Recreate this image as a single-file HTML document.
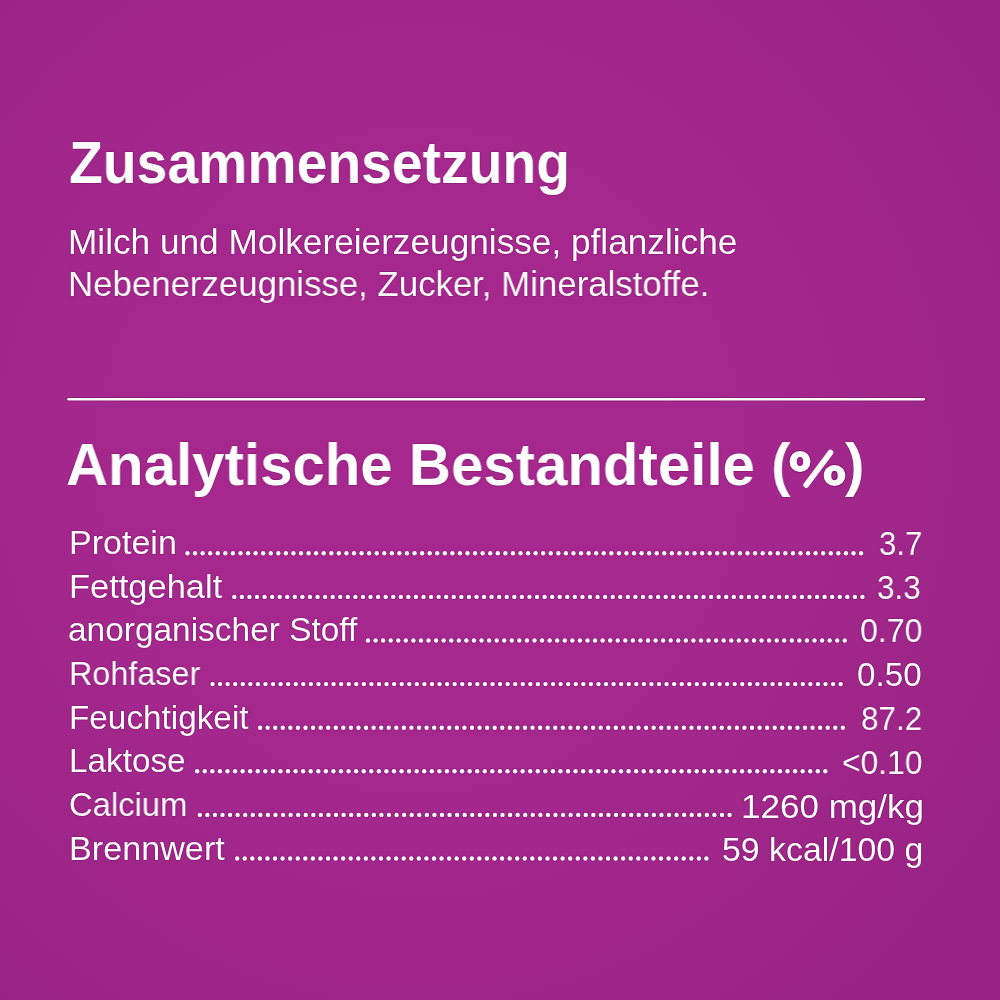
<!DOCTYPE html>
<html><head><meta charset="utf-8"><style>
html,body{margin:0;padding:0;}
body{width:1000px;height:1000px;overflow:hidden;position:relative;background:radial-gradient(ellipse 700px 720px at 42% 46%, rgb(166,40,142) 0%, rgb(166,40,142) 35%, rgb(160,38,138) 68%, rgb(152,35,132) 100%);font-family:"Liberation Sans",sans-serif;color:#fff;}
.t{position:absolute;white-space:pre;transform-origin:0 0;will-change:transform;text-shadow:1px 0 0 rgba(105,0,90,0.3),-1px 0 0 rgba(105,0,90,0.3),0 1px 0 rgba(105,0,90,0.3),0 -1px 0 rgba(105,0,90,0.3);}
svg{position:absolute;left:0;top:0;}
</style></head><body>
<svg width="1000" height="1000" viewBox="0 0 1000 1000"><rect x="67.2" y="397.9" width="857.8" height="2.7" rx="1.3" fill="#fff" stroke="rgba(105,0,90,0.4)" stroke-width="2" paint-order="stroke"/><g fill="#fff" stroke="rgba(105,0,90,0.4)" stroke-width="1.6" paint-order="stroke"><circle cx="187.50" cy="553.3" r="2.2"/><circle cx="195.07" cy="553.3" r="2.2"/><circle cx="202.64" cy="553.3" r="2.2"/><circle cx="210.20" cy="553.3" r="2.2"/><circle cx="217.77" cy="553.3" r="2.2"/><circle cx="225.34" cy="553.3" r="2.2"/><circle cx="232.91" cy="553.3" r="2.2"/><circle cx="240.48" cy="553.3" r="2.2"/><circle cx="248.04" cy="553.3" r="2.2"/><circle cx="255.61" cy="553.3" r="2.2"/><circle cx="263.18" cy="553.3" r="2.2"/><circle cx="270.75" cy="553.3" r="2.2"/><circle cx="278.32" cy="553.3" r="2.2"/><circle cx="285.88" cy="553.3" r="2.2"/><circle cx="293.45" cy="553.3" r="2.2"/><circle cx="301.02" cy="553.3" r="2.2"/><circle cx="308.59" cy="553.3" r="2.2"/><circle cx="316.16" cy="553.3" r="2.2"/><circle cx="323.72" cy="553.3" r="2.2"/><circle cx="331.29" cy="553.3" r="2.2"/><circle cx="338.86" cy="553.3" r="2.2"/><circle cx="346.43" cy="553.3" r="2.2"/><circle cx="354.00" cy="553.3" r="2.2"/><circle cx="361.56" cy="553.3" r="2.2"/><circle cx="369.13" cy="553.3" r="2.2"/><circle cx="376.70" cy="553.3" r="2.2"/><circle cx="384.27" cy="553.3" r="2.2"/><circle cx="391.84" cy="553.3" r="2.2"/><circle cx="399.40" cy="553.3" r="2.2"/><circle cx="406.97" cy="553.3" r="2.2"/><circle cx="414.54" cy="553.3" r="2.2"/><circle cx="422.11" cy="553.3" r="2.2"/><circle cx="429.68" cy="553.3" r="2.2"/><circle cx="437.24" cy="553.3" r="2.2"/><circle cx="444.81" cy="553.3" r="2.2"/><circle cx="452.38" cy="553.3" r="2.2"/><circle cx="459.95" cy="553.3" r="2.2"/><circle cx="467.52" cy="553.3" r="2.2"/><circle cx="475.08" cy="553.3" r="2.2"/><circle cx="482.65" cy="553.3" r="2.2"/><circle cx="490.22" cy="553.3" r="2.2"/><circle cx="497.79" cy="553.3" r="2.2"/><circle cx="505.36" cy="553.3" r="2.2"/><circle cx="512.92" cy="553.3" r="2.2"/><circle cx="520.49" cy="553.3" r="2.2"/><circle cx="528.06" cy="553.3" r="2.2"/><circle cx="535.63" cy="553.3" r="2.2"/><circle cx="543.20" cy="553.3" r="2.2"/><circle cx="550.76" cy="553.3" r="2.2"/><circle cx="558.33" cy="553.3" r="2.2"/><circle cx="565.90" cy="553.3" r="2.2"/><circle cx="573.47" cy="553.3" r="2.2"/><circle cx="581.04" cy="553.3" r="2.2"/><circle cx="588.60" cy="553.3" r="2.2"/><circle cx="596.17" cy="553.3" r="2.2"/><circle cx="603.74" cy="553.3" r="2.2"/><circle cx="611.31" cy="553.3" r="2.2"/><circle cx="618.88" cy="553.3" r="2.2"/><circle cx="626.44" cy="553.3" r="2.2"/><circle cx="634.01" cy="553.3" r="2.2"/><circle cx="641.58" cy="553.3" r="2.2"/><circle cx="649.15" cy="553.3" r="2.2"/><circle cx="656.72" cy="553.3" r="2.2"/><circle cx="664.28" cy="553.3" r="2.2"/><circle cx="671.85" cy="553.3" r="2.2"/><circle cx="679.42" cy="553.3" r="2.2"/><circle cx="686.99" cy="553.3" r="2.2"/><circle cx="694.56" cy="553.3" r="2.2"/><circle cx="702.12" cy="553.3" r="2.2"/><circle cx="709.69" cy="553.3" r="2.2"/><circle cx="717.26" cy="553.3" r="2.2"/><circle cx="724.83" cy="553.3" r="2.2"/><circle cx="732.40" cy="553.3" r="2.2"/><circle cx="739.96" cy="553.3" r="2.2"/><circle cx="747.53" cy="553.3" r="2.2"/><circle cx="755.10" cy="553.3" r="2.2"/><circle cx="762.67" cy="553.3" r="2.2"/><circle cx="770.24" cy="553.3" r="2.2"/><circle cx="777.80" cy="553.3" r="2.2"/><circle cx="785.37" cy="553.3" r="2.2"/><circle cx="792.94" cy="553.3" r="2.2"/><circle cx="800.51" cy="553.3" r="2.2"/><circle cx="808.08" cy="553.3" r="2.2"/><circle cx="815.64" cy="553.3" r="2.2"/><circle cx="823.21" cy="553.3" r="2.2"/><circle cx="830.78" cy="553.3" r="2.2"/><circle cx="838.35" cy="553.3" r="2.2"/><circle cx="845.92" cy="553.3" r="2.2"/><circle cx="853.48" cy="553.3" r="2.2"/><circle cx="861.05" cy="553.3" r="2.2"/><circle cx="234.30" cy="596.9" r="2.2"/><circle cx="241.87" cy="596.9" r="2.2"/><circle cx="249.44" cy="596.9" r="2.2"/><circle cx="257.00" cy="596.9" r="2.2"/><circle cx="264.57" cy="596.9" r="2.2"/><circle cx="272.14" cy="596.9" r="2.2"/><circle cx="279.71" cy="596.9" r="2.2"/><circle cx="287.28" cy="596.9" r="2.2"/><circle cx="294.84" cy="596.9" r="2.2"/><circle cx="302.41" cy="596.9" r="2.2"/><circle cx="309.98" cy="596.9" r="2.2"/><circle cx="317.55" cy="596.9" r="2.2"/><circle cx="325.12" cy="596.9" r="2.2"/><circle cx="332.68" cy="596.9" r="2.2"/><circle cx="340.25" cy="596.9" r="2.2"/><circle cx="347.82" cy="596.9" r="2.2"/><circle cx="355.39" cy="596.9" r="2.2"/><circle cx="362.96" cy="596.9" r="2.2"/><circle cx="370.52" cy="596.9" r="2.2"/><circle cx="378.09" cy="596.9" r="2.2"/><circle cx="385.66" cy="596.9" r="2.2"/><circle cx="393.23" cy="596.9" r="2.2"/><circle cx="400.80" cy="596.9" r="2.2"/><circle cx="408.36" cy="596.9" r="2.2"/><circle cx="415.93" cy="596.9" r="2.2"/><circle cx="423.50" cy="596.9" r="2.2"/><circle cx="431.07" cy="596.9" r="2.2"/><circle cx="438.64" cy="596.9" r="2.2"/><circle cx="446.20" cy="596.9" r="2.2"/><circle cx="453.77" cy="596.9" r="2.2"/><circle cx="461.34" cy="596.9" r="2.2"/><circle cx="468.91" cy="596.9" r="2.2"/><circle cx="476.48" cy="596.9" r="2.2"/><circle cx="484.04" cy="596.9" r="2.2"/><circle cx="491.61" cy="596.9" r="2.2"/><circle cx="499.18" cy="596.9" r="2.2"/><circle cx="506.75" cy="596.9" r="2.2"/><circle cx="514.32" cy="596.9" r="2.2"/><circle cx="521.88" cy="596.9" r="2.2"/><circle cx="529.45" cy="596.9" r="2.2"/><circle cx="537.02" cy="596.9" r="2.2"/><circle cx="544.59" cy="596.9" r="2.2"/><circle cx="552.16" cy="596.9" r="2.2"/><circle cx="559.72" cy="596.9" r="2.2"/><circle cx="567.29" cy="596.9" r="2.2"/><circle cx="574.86" cy="596.9" r="2.2"/><circle cx="582.43" cy="596.9" r="2.2"/><circle cx="590.00" cy="596.9" r="2.2"/><circle cx="597.56" cy="596.9" r="2.2"/><circle cx="605.13" cy="596.9" r="2.2"/><circle cx="612.70" cy="596.9" r="2.2"/><circle cx="620.27" cy="596.9" r="2.2"/><circle cx="627.84" cy="596.9" r="2.2"/><circle cx="635.40" cy="596.9" r="2.2"/><circle cx="642.97" cy="596.9" r="2.2"/><circle cx="650.54" cy="596.9" r="2.2"/><circle cx="658.11" cy="596.9" r="2.2"/><circle cx="665.68" cy="596.9" r="2.2"/><circle cx="673.24" cy="596.9" r="2.2"/><circle cx="680.81" cy="596.9" r="2.2"/><circle cx="688.38" cy="596.9" r="2.2"/><circle cx="695.95" cy="596.9" r="2.2"/><circle cx="703.52" cy="596.9" r="2.2"/><circle cx="711.08" cy="596.9" r="2.2"/><circle cx="718.65" cy="596.9" r="2.2"/><circle cx="726.22" cy="596.9" r="2.2"/><circle cx="733.79" cy="596.9" r="2.2"/><circle cx="741.36" cy="596.9" r="2.2"/><circle cx="748.92" cy="596.9" r="2.2"/><circle cx="756.49" cy="596.9" r="2.2"/><circle cx="764.06" cy="596.9" r="2.2"/><circle cx="771.63" cy="596.9" r="2.2"/><circle cx="779.20" cy="596.9" r="2.2"/><circle cx="786.76" cy="596.9" r="2.2"/><circle cx="794.33" cy="596.9" r="2.2"/><circle cx="801.90" cy="596.9" r="2.2"/><circle cx="809.47" cy="596.9" r="2.2"/><circle cx="817.04" cy="596.9" r="2.2"/><circle cx="824.60" cy="596.9" r="2.2"/><circle cx="832.17" cy="596.9" r="2.2"/><circle cx="839.74" cy="596.9" r="2.2"/><circle cx="847.31" cy="596.9" r="2.2"/><circle cx="854.88" cy="596.9" r="2.2"/><circle cx="862.44" cy="596.9" r="2.2"/><circle cx="368.00" cy="640.5" r="2.2"/><circle cx="375.57" cy="640.5" r="2.2"/><circle cx="383.14" cy="640.5" r="2.2"/><circle cx="390.70" cy="640.5" r="2.2"/><circle cx="398.27" cy="640.5" r="2.2"/><circle cx="405.84" cy="640.5" r="2.2"/><circle cx="413.41" cy="640.5" r="2.2"/><circle cx="420.98" cy="640.5" r="2.2"/><circle cx="428.54" cy="640.5" r="2.2"/><circle cx="436.11" cy="640.5" r="2.2"/><circle cx="443.68" cy="640.5" r="2.2"/><circle cx="451.25" cy="640.5" r="2.2"/><circle cx="458.82" cy="640.5" r="2.2"/><circle cx="466.38" cy="640.5" r="2.2"/><circle cx="473.95" cy="640.5" r="2.2"/><circle cx="481.52" cy="640.5" r="2.2"/><circle cx="489.09" cy="640.5" r="2.2"/><circle cx="496.66" cy="640.5" r="2.2"/><circle cx="504.22" cy="640.5" r="2.2"/><circle cx="511.79" cy="640.5" r="2.2"/><circle cx="519.36" cy="640.5" r="2.2"/><circle cx="526.93" cy="640.5" r="2.2"/><circle cx="534.50" cy="640.5" r="2.2"/><circle cx="542.06" cy="640.5" r="2.2"/><circle cx="549.63" cy="640.5" r="2.2"/><circle cx="557.20" cy="640.5" r="2.2"/><circle cx="564.77" cy="640.5" r="2.2"/><circle cx="572.34" cy="640.5" r="2.2"/><circle cx="579.90" cy="640.5" r="2.2"/><circle cx="587.47" cy="640.5" r="2.2"/><circle cx="595.04" cy="640.5" r="2.2"/><circle cx="602.61" cy="640.5" r="2.2"/><circle cx="610.18" cy="640.5" r="2.2"/><circle cx="617.74" cy="640.5" r="2.2"/><circle cx="625.31" cy="640.5" r="2.2"/><circle cx="632.88" cy="640.5" r="2.2"/><circle cx="640.45" cy="640.5" r="2.2"/><circle cx="648.02" cy="640.5" r="2.2"/><circle cx="655.58" cy="640.5" r="2.2"/><circle cx="663.15" cy="640.5" r="2.2"/><circle cx="670.72" cy="640.5" r="2.2"/><circle cx="678.29" cy="640.5" r="2.2"/><circle cx="685.86" cy="640.5" r="2.2"/><circle cx="693.42" cy="640.5" r="2.2"/><circle cx="700.99" cy="640.5" r="2.2"/><circle cx="708.56" cy="640.5" r="2.2"/><circle cx="716.13" cy="640.5" r="2.2"/><circle cx="723.70" cy="640.5" r="2.2"/><circle cx="731.26" cy="640.5" r="2.2"/><circle cx="738.83" cy="640.5" r="2.2"/><circle cx="746.40" cy="640.5" r="2.2"/><circle cx="753.97" cy="640.5" r="2.2"/><circle cx="761.54" cy="640.5" r="2.2"/><circle cx="769.10" cy="640.5" r="2.2"/><circle cx="776.67" cy="640.5" r="2.2"/><circle cx="784.24" cy="640.5" r="2.2"/><circle cx="791.81" cy="640.5" r="2.2"/><circle cx="799.38" cy="640.5" r="2.2"/><circle cx="806.94" cy="640.5" r="2.2"/><circle cx="814.51" cy="640.5" r="2.2"/><circle cx="822.08" cy="640.5" r="2.2"/><circle cx="829.65" cy="640.5" r="2.2"/><circle cx="837.22" cy="640.5" r="2.2"/><circle cx="844.78" cy="640.5" r="2.2"/><circle cx="212.50" cy="684.1" r="2.2"/><circle cx="220.07" cy="684.1" r="2.2"/><circle cx="227.64" cy="684.1" r="2.2"/><circle cx="235.20" cy="684.1" r="2.2"/><circle cx="242.77" cy="684.1" r="2.2"/><circle cx="250.34" cy="684.1" r="2.2"/><circle cx="257.91" cy="684.1" r="2.2"/><circle cx="265.48" cy="684.1" r="2.2"/><circle cx="273.04" cy="684.1" r="2.2"/><circle cx="280.61" cy="684.1" r="2.2"/><circle cx="288.18" cy="684.1" r="2.2"/><circle cx="295.75" cy="684.1" r="2.2"/><circle cx="303.32" cy="684.1" r="2.2"/><circle cx="310.88" cy="684.1" r="2.2"/><circle cx="318.45" cy="684.1" r="2.2"/><circle cx="326.02" cy="684.1" r="2.2"/><circle cx="333.59" cy="684.1" r="2.2"/><circle cx="341.16" cy="684.1" r="2.2"/><circle cx="348.72" cy="684.1" r="2.2"/><circle cx="356.29" cy="684.1" r="2.2"/><circle cx="363.86" cy="684.1" r="2.2"/><circle cx="371.43" cy="684.1" r="2.2"/><circle cx="379.00" cy="684.1" r="2.2"/><circle cx="386.56" cy="684.1" r="2.2"/><circle cx="394.13" cy="684.1" r="2.2"/><circle cx="401.70" cy="684.1" r="2.2"/><circle cx="409.27" cy="684.1" r="2.2"/><circle cx="416.84" cy="684.1" r="2.2"/><circle cx="424.40" cy="684.1" r="2.2"/><circle cx="431.97" cy="684.1" r="2.2"/><circle cx="439.54" cy="684.1" r="2.2"/><circle cx="447.11" cy="684.1" r="2.2"/><circle cx="454.68" cy="684.1" r="2.2"/><circle cx="462.24" cy="684.1" r="2.2"/><circle cx="469.81" cy="684.1" r="2.2"/><circle cx="477.38" cy="684.1" r="2.2"/><circle cx="484.95" cy="684.1" r="2.2"/><circle cx="492.52" cy="684.1" r="2.2"/><circle cx="500.08" cy="684.1" r="2.2"/><circle cx="507.65" cy="684.1" r="2.2"/><circle cx="515.22" cy="684.1" r="2.2"/><circle cx="522.79" cy="684.1" r="2.2"/><circle cx="530.36" cy="684.1" r="2.2"/><circle cx="537.92" cy="684.1" r="2.2"/><circle cx="545.49" cy="684.1" r="2.2"/><circle cx="553.06" cy="684.1" r="2.2"/><circle cx="560.63" cy="684.1" r="2.2"/><circle cx="568.20" cy="684.1" r="2.2"/><circle cx="575.76" cy="684.1" r="2.2"/><circle cx="583.33" cy="684.1" r="2.2"/><circle cx="590.90" cy="684.1" r="2.2"/><circle cx="598.47" cy="684.1" r="2.2"/><circle cx="606.04" cy="684.1" r="2.2"/><circle cx="613.60" cy="684.1" r="2.2"/><circle cx="621.17" cy="684.1" r="2.2"/><circle cx="628.74" cy="684.1" r="2.2"/><circle cx="636.31" cy="684.1" r="2.2"/><circle cx="643.88" cy="684.1" r="2.2"/><circle cx="651.44" cy="684.1" r="2.2"/><circle cx="659.01" cy="684.1" r="2.2"/><circle cx="666.58" cy="684.1" r="2.2"/><circle cx="674.15" cy="684.1" r="2.2"/><circle cx="681.72" cy="684.1" r="2.2"/><circle cx="689.28" cy="684.1" r="2.2"/><circle cx="696.85" cy="684.1" r="2.2"/><circle cx="704.42" cy="684.1" r="2.2"/><circle cx="711.99" cy="684.1" r="2.2"/><circle cx="719.56" cy="684.1" r="2.2"/><circle cx="727.12" cy="684.1" r="2.2"/><circle cx="734.69" cy="684.1" r="2.2"/><circle cx="742.26" cy="684.1" r="2.2"/><circle cx="749.83" cy="684.1" r="2.2"/><circle cx="757.40" cy="684.1" r="2.2"/><circle cx="764.96" cy="684.1" r="2.2"/><circle cx="772.53" cy="684.1" r="2.2"/><circle cx="780.10" cy="684.1" r="2.2"/><circle cx="787.67" cy="684.1" r="2.2"/><circle cx="795.24" cy="684.1" r="2.2"/><circle cx="802.80" cy="684.1" r="2.2"/><circle cx="810.37" cy="684.1" r="2.2"/><circle cx="817.94" cy="684.1" r="2.2"/><circle cx="825.51" cy="684.1" r="2.2"/><circle cx="833.08" cy="684.1" r="2.2"/><circle cx="840.64" cy="684.1" r="2.2"/><circle cx="260.10" cy="727.7" r="2.2"/><circle cx="267.67" cy="727.7" r="2.2"/><circle cx="275.24" cy="727.7" r="2.2"/><circle cx="282.80" cy="727.7" r="2.2"/><circle cx="290.37" cy="727.7" r="2.2"/><circle cx="297.94" cy="727.7" r="2.2"/><circle cx="305.51" cy="727.7" r="2.2"/><circle cx="313.08" cy="727.7" r="2.2"/><circle cx="320.64" cy="727.7" r="2.2"/><circle cx="328.21" cy="727.7" r="2.2"/><circle cx="335.78" cy="727.7" r="2.2"/><circle cx="343.35" cy="727.7" r="2.2"/><circle cx="350.92" cy="727.7" r="2.2"/><circle cx="358.48" cy="727.7" r="2.2"/><circle cx="366.05" cy="727.7" r="2.2"/><circle cx="373.62" cy="727.7" r="2.2"/><circle cx="381.19" cy="727.7" r="2.2"/><circle cx="388.76" cy="727.7" r="2.2"/><circle cx="396.32" cy="727.7" r="2.2"/><circle cx="403.89" cy="727.7" r="2.2"/><circle cx="411.46" cy="727.7" r="2.2"/><circle cx="419.03" cy="727.7" r="2.2"/><circle cx="426.60" cy="727.7" r="2.2"/><circle cx="434.16" cy="727.7" r="2.2"/><circle cx="441.73" cy="727.7" r="2.2"/><circle cx="449.30" cy="727.7" r="2.2"/><circle cx="456.87" cy="727.7" r="2.2"/><circle cx="464.44" cy="727.7" r="2.2"/><circle cx="472.00" cy="727.7" r="2.2"/><circle cx="479.57" cy="727.7" r="2.2"/><circle cx="487.14" cy="727.7" r="2.2"/><circle cx="494.71" cy="727.7" r="2.2"/><circle cx="502.28" cy="727.7" r="2.2"/><circle cx="509.84" cy="727.7" r="2.2"/><circle cx="517.41" cy="727.7" r="2.2"/><circle cx="524.98" cy="727.7" r="2.2"/><circle cx="532.55" cy="727.7" r="2.2"/><circle cx="540.12" cy="727.7" r="2.2"/><circle cx="547.68" cy="727.7" r="2.2"/><circle cx="555.25" cy="727.7" r="2.2"/><circle cx="562.82" cy="727.7" r="2.2"/><circle cx="570.39" cy="727.7" r="2.2"/><circle cx="577.96" cy="727.7" r="2.2"/><circle cx="585.52" cy="727.7" r="2.2"/><circle cx="593.09" cy="727.7" r="2.2"/><circle cx="600.66" cy="727.7" r="2.2"/><circle cx="608.23" cy="727.7" r="2.2"/><circle cx="615.80" cy="727.7" r="2.2"/><circle cx="623.36" cy="727.7" r="2.2"/><circle cx="630.93" cy="727.7" r="2.2"/><circle cx="638.50" cy="727.7" r="2.2"/><circle cx="646.07" cy="727.7" r="2.2"/><circle cx="653.64" cy="727.7" r="2.2"/><circle cx="661.20" cy="727.7" r="2.2"/><circle cx="668.77" cy="727.7" r="2.2"/><circle cx="676.34" cy="727.7" r="2.2"/><circle cx="683.91" cy="727.7" r="2.2"/><circle cx="691.48" cy="727.7" r="2.2"/><circle cx="699.04" cy="727.7" r="2.2"/><circle cx="706.61" cy="727.7" r="2.2"/><circle cx="714.18" cy="727.7" r="2.2"/><circle cx="721.75" cy="727.7" r="2.2"/><circle cx="729.32" cy="727.7" r="2.2"/><circle cx="736.88" cy="727.7" r="2.2"/><circle cx="744.45" cy="727.7" r="2.2"/><circle cx="752.02" cy="727.7" r="2.2"/><circle cx="759.59" cy="727.7" r="2.2"/><circle cx="767.16" cy="727.7" r="2.2"/><circle cx="774.72" cy="727.7" r="2.2"/><circle cx="782.29" cy="727.7" r="2.2"/><circle cx="789.86" cy="727.7" r="2.2"/><circle cx="797.43" cy="727.7" r="2.2"/><circle cx="805.00" cy="727.7" r="2.2"/><circle cx="812.56" cy="727.7" r="2.2"/><circle cx="820.13" cy="727.7" r="2.2"/><circle cx="827.70" cy="727.7" r="2.2"/><circle cx="835.27" cy="727.7" r="2.2"/><circle cx="842.84" cy="727.7" r="2.2"/><circle cx="197.20" cy="771.3" r="2.2"/><circle cx="204.77" cy="771.3" r="2.2"/><circle cx="212.34" cy="771.3" r="2.2"/><circle cx="219.90" cy="771.3" r="2.2"/><circle cx="227.47" cy="771.3" r="2.2"/><circle cx="235.04" cy="771.3" r="2.2"/><circle cx="242.61" cy="771.3" r="2.2"/><circle cx="250.18" cy="771.3" r="2.2"/><circle cx="257.74" cy="771.3" r="2.2"/><circle cx="265.31" cy="771.3" r="2.2"/><circle cx="272.88" cy="771.3" r="2.2"/><circle cx="280.45" cy="771.3" r="2.2"/><circle cx="288.02" cy="771.3" r="2.2"/><circle cx="295.58" cy="771.3" r="2.2"/><circle cx="303.15" cy="771.3" r="2.2"/><circle cx="310.72" cy="771.3" r="2.2"/><circle cx="318.29" cy="771.3" r="2.2"/><circle cx="325.86" cy="771.3" r="2.2"/><circle cx="333.42" cy="771.3" r="2.2"/><circle cx="340.99" cy="771.3" r="2.2"/><circle cx="348.56" cy="771.3" r="2.2"/><circle cx="356.13" cy="771.3" r="2.2"/><circle cx="363.70" cy="771.3" r="2.2"/><circle cx="371.26" cy="771.3" r="2.2"/><circle cx="378.83" cy="771.3" r="2.2"/><circle cx="386.40" cy="771.3" r="2.2"/><circle cx="393.97" cy="771.3" r="2.2"/><circle cx="401.54" cy="771.3" r="2.2"/><circle cx="409.10" cy="771.3" r="2.2"/><circle cx="416.67" cy="771.3" r="2.2"/><circle cx="424.24" cy="771.3" r="2.2"/><circle cx="431.81" cy="771.3" r="2.2"/><circle cx="439.38" cy="771.3" r="2.2"/><circle cx="446.94" cy="771.3" r="2.2"/><circle cx="454.51" cy="771.3" r="2.2"/><circle cx="462.08" cy="771.3" r="2.2"/><circle cx="469.65" cy="771.3" r="2.2"/><circle cx="477.22" cy="771.3" r="2.2"/><circle cx="484.78" cy="771.3" r="2.2"/><circle cx="492.35" cy="771.3" r="2.2"/><circle cx="499.92" cy="771.3" r="2.2"/><circle cx="507.49" cy="771.3" r="2.2"/><circle cx="515.06" cy="771.3" r="2.2"/><circle cx="522.62" cy="771.3" r="2.2"/><circle cx="530.19" cy="771.3" r="2.2"/><circle cx="537.76" cy="771.3" r="2.2"/><circle cx="545.33" cy="771.3" r="2.2"/><circle cx="552.90" cy="771.3" r="2.2"/><circle cx="560.46" cy="771.3" r="2.2"/><circle cx="568.03" cy="771.3" r="2.2"/><circle cx="575.60" cy="771.3" r="2.2"/><circle cx="583.17" cy="771.3" r="2.2"/><circle cx="590.74" cy="771.3" r="2.2"/><circle cx="598.30" cy="771.3" r="2.2"/><circle cx="605.87" cy="771.3" r="2.2"/><circle cx="613.44" cy="771.3" r="2.2"/><circle cx="621.01" cy="771.3" r="2.2"/><circle cx="628.58" cy="771.3" r="2.2"/><circle cx="636.14" cy="771.3" r="2.2"/><circle cx="643.71" cy="771.3" r="2.2"/><circle cx="651.28" cy="771.3" r="2.2"/><circle cx="658.85" cy="771.3" r="2.2"/><circle cx="666.42" cy="771.3" r="2.2"/><circle cx="673.98" cy="771.3" r="2.2"/><circle cx="681.55" cy="771.3" r="2.2"/><circle cx="689.12" cy="771.3" r="2.2"/><circle cx="696.69" cy="771.3" r="2.2"/><circle cx="704.26" cy="771.3" r="2.2"/><circle cx="711.82" cy="771.3" r="2.2"/><circle cx="719.39" cy="771.3" r="2.2"/><circle cx="726.96" cy="771.3" r="2.2"/><circle cx="734.53" cy="771.3" r="2.2"/><circle cx="742.10" cy="771.3" r="2.2"/><circle cx="749.66" cy="771.3" r="2.2"/><circle cx="757.23" cy="771.3" r="2.2"/><circle cx="764.80" cy="771.3" r="2.2"/><circle cx="772.37" cy="771.3" r="2.2"/><circle cx="779.94" cy="771.3" r="2.2"/><circle cx="787.50" cy="771.3" r="2.2"/><circle cx="795.07" cy="771.3" r="2.2"/><circle cx="802.64" cy="771.3" r="2.2"/><circle cx="810.21" cy="771.3" r="2.2"/><circle cx="817.78" cy="771.3" r="2.2"/><circle cx="825.34" cy="771.3" r="2.2"/><circle cx="199.80" cy="814.9" r="2.2"/><circle cx="207.37" cy="814.9" r="2.2"/><circle cx="214.94" cy="814.9" r="2.2"/><circle cx="222.50" cy="814.9" r="2.2"/><circle cx="230.07" cy="814.9" r="2.2"/><circle cx="237.64" cy="814.9" r="2.2"/><circle cx="245.21" cy="814.9" r="2.2"/><circle cx="252.78" cy="814.9" r="2.2"/><circle cx="260.34" cy="814.9" r="2.2"/><circle cx="267.91" cy="814.9" r="2.2"/><circle cx="275.48" cy="814.9" r="2.2"/><circle cx="283.05" cy="814.9" r="2.2"/><circle cx="290.62" cy="814.9" r="2.2"/><circle cx="298.18" cy="814.9" r="2.2"/><circle cx="305.75" cy="814.9" r="2.2"/><circle cx="313.32" cy="814.9" r="2.2"/><circle cx="320.89" cy="814.9" r="2.2"/><circle cx="328.46" cy="814.9" r="2.2"/><circle cx="336.02" cy="814.9" r="2.2"/><circle cx="343.59" cy="814.9" r="2.2"/><circle cx="351.16" cy="814.9" r="2.2"/><circle cx="358.73" cy="814.9" r="2.2"/><circle cx="366.30" cy="814.9" r="2.2"/><circle cx="373.86" cy="814.9" r="2.2"/><circle cx="381.43" cy="814.9" r="2.2"/><circle cx="389.00" cy="814.9" r="2.2"/><circle cx="396.57" cy="814.9" r="2.2"/><circle cx="404.14" cy="814.9" r="2.2"/><circle cx="411.70" cy="814.9" r="2.2"/><circle cx="419.27" cy="814.9" r="2.2"/><circle cx="426.84" cy="814.9" r="2.2"/><circle cx="434.41" cy="814.9" r="2.2"/><circle cx="441.98" cy="814.9" r="2.2"/><circle cx="449.54" cy="814.9" r="2.2"/><circle cx="457.11" cy="814.9" r="2.2"/><circle cx="464.68" cy="814.9" r="2.2"/><circle cx="472.25" cy="814.9" r="2.2"/><circle cx="479.82" cy="814.9" r="2.2"/><circle cx="487.38" cy="814.9" r="2.2"/><circle cx="494.95" cy="814.9" r="2.2"/><circle cx="502.52" cy="814.9" r="2.2"/><circle cx="510.09" cy="814.9" r="2.2"/><circle cx="517.66" cy="814.9" r="2.2"/><circle cx="525.22" cy="814.9" r="2.2"/><circle cx="532.79" cy="814.9" r="2.2"/><circle cx="540.36" cy="814.9" r="2.2"/><circle cx="547.93" cy="814.9" r="2.2"/><circle cx="555.50" cy="814.9" r="2.2"/><circle cx="563.06" cy="814.9" r="2.2"/><circle cx="570.63" cy="814.9" r="2.2"/><circle cx="578.20" cy="814.9" r="2.2"/><circle cx="585.77" cy="814.9" r="2.2"/><circle cx="593.34" cy="814.9" r="2.2"/><circle cx="600.90" cy="814.9" r="2.2"/><circle cx="608.47" cy="814.9" r="2.2"/><circle cx="616.04" cy="814.9" r="2.2"/><circle cx="623.61" cy="814.9" r="2.2"/><circle cx="631.18" cy="814.9" r="2.2"/><circle cx="638.74" cy="814.9" r="2.2"/><circle cx="646.31" cy="814.9" r="2.2"/><circle cx="653.88" cy="814.9" r="2.2"/><circle cx="661.45" cy="814.9" r="2.2"/><circle cx="669.02" cy="814.9" r="2.2"/><circle cx="676.58" cy="814.9" r="2.2"/><circle cx="684.15" cy="814.9" r="2.2"/><circle cx="691.72" cy="814.9" r="2.2"/><circle cx="699.29" cy="814.9" r="2.2"/><circle cx="706.86" cy="814.9" r="2.2"/><circle cx="714.42" cy="814.9" r="2.2"/><circle cx="721.99" cy="814.9" r="2.2"/><circle cx="729.56" cy="814.9" r="2.2"/><circle cx="237.20" cy="858.5" r="2.2"/><circle cx="244.77" cy="858.5" r="2.2"/><circle cx="252.34" cy="858.5" r="2.2"/><circle cx="259.90" cy="858.5" r="2.2"/><circle cx="267.47" cy="858.5" r="2.2"/><circle cx="275.04" cy="858.5" r="2.2"/><circle cx="282.61" cy="858.5" r="2.2"/><circle cx="290.18" cy="858.5" r="2.2"/><circle cx="297.74" cy="858.5" r="2.2"/><circle cx="305.31" cy="858.5" r="2.2"/><circle cx="312.88" cy="858.5" r="2.2"/><circle cx="320.45" cy="858.5" r="2.2"/><circle cx="328.02" cy="858.5" r="2.2"/><circle cx="335.58" cy="858.5" r="2.2"/><circle cx="343.15" cy="858.5" r="2.2"/><circle cx="350.72" cy="858.5" r="2.2"/><circle cx="358.29" cy="858.5" r="2.2"/><circle cx="365.86" cy="858.5" r="2.2"/><circle cx="373.42" cy="858.5" r="2.2"/><circle cx="380.99" cy="858.5" r="2.2"/><circle cx="388.56" cy="858.5" r="2.2"/><circle cx="396.13" cy="858.5" r="2.2"/><circle cx="403.70" cy="858.5" r="2.2"/><circle cx="411.26" cy="858.5" r="2.2"/><circle cx="418.83" cy="858.5" r="2.2"/><circle cx="426.40" cy="858.5" r="2.2"/><circle cx="433.97" cy="858.5" r="2.2"/><circle cx="441.54" cy="858.5" r="2.2"/><circle cx="449.10" cy="858.5" r="2.2"/><circle cx="456.67" cy="858.5" r="2.2"/><circle cx="464.24" cy="858.5" r="2.2"/><circle cx="471.81" cy="858.5" r="2.2"/><circle cx="479.38" cy="858.5" r="2.2"/><circle cx="486.94" cy="858.5" r="2.2"/><circle cx="494.51" cy="858.5" r="2.2"/><circle cx="502.08" cy="858.5" r="2.2"/><circle cx="509.65" cy="858.5" r="2.2"/><circle cx="517.22" cy="858.5" r="2.2"/><circle cx="524.78" cy="858.5" r="2.2"/><circle cx="532.35" cy="858.5" r="2.2"/><circle cx="539.92" cy="858.5" r="2.2"/><circle cx="547.49" cy="858.5" r="2.2"/><circle cx="555.06" cy="858.5" r="2.2"/><circle cx="562.62" cy="858.5" r="2.2"/><circle cx="570.19" cy="858.5" r="2.2"/><circle cx="577.76" cy="858.5" r="2.2"/><circle cx="585.33" cy="858.5" r="2.2"/><circle cx="592.90" cy="858.5" r="2.2"/><circle cx="600.46" cy="858.5" r="2.2"/><circle cx="608.03" cy="858.5" r="2.2"/><circle cx="615.60" cy="858.5" r="2.2"/><circle cx="623.17" cy="858.5" r="2.2"/><circle cx="630.74" cy="858.5" r="2.2"/><circle cx="638.30" cy="858.5" r="2.2"/><circle cx="645.87" cy="858.5" r="2.2"/><circle cx="653.44" cy="858.5" r="2.2"/><circle cx="661.01" cy="858.5" r="2.2"/><circle cx="668.58" cy="858.5" r="2.2"/><circle cx="676.14" cy="858.5" r="2.2"/><circle cx="683.71" cy="858.5" r="2.2"/><circle cx="691.28" cy="858.5" r="2.2"/><circle cx="698.85" cy="858.5" r="2.2"/><circle cx="706.42" cy="858.5" r="2.2"/></g><g fill="#fff" fill-rule="evenodd" stroke="rgba(105,0,90,0.4)" stroke-width="2" paint-order="stroke"><path d="M789.5 461.5a10.5 10.5 0 1 0 21 0a10.5 10.5 0 1 0 -21 0zM796.8 461.5a3.2 4.5 0 1 0 6.4 0a3.2 4.5 0 1 0 -6.4 0z"/><path d="M823.75 475.5a10.75 10.5 0 1 0 21.5 0a10.75 10.5 0 1 0 -21.5 0zM831.25 475.5a3.25 4.75 0 1 0 6.5 0a3.25 4.75 0 1 0 -6.5 0z"/></g><line x1="830.5" y1="452.5" x2="806.2" y2="485" stroke="#fff" stroke-width="5.6" stroke-linecap="round"/></svg>
<div class="t" style="left:68.56px;top:134px;font-size:59px;line-height:59px;font-weight:700;transform:scaleX(0.9377)">Zusammensetzung</div>
<div class="t" style="left:67.98px;top:224px;font-size:35px;line-height:35px;font-weight:400;transform:scaleX(1.0061)">Milch und Molkereierzeugnisse, pflanzliche</div>
<div class="t" style="left:68.02px;top:266px;font-size:35px;line-height:35px;font-weight:400;transform:scaleX(0.9941)">Nebenerzeugnisse, Zucker, Mineralstoffe.</div>
<div class="t" style="left:65.91px;top:436px;font-size:59px;line-height:59px;font-weight:700;transform:scaleX(0.9865)">Analytische Bestandteile (</div>
<div class="t" style="left:845.00px;top:436px;font-size:59px;line-height:59px;font-weight:700;transform:scaleX(0.9882)">)</div>
<div class="t" style="left:68.94px;top:526px;font-size:33px;line-height:33px;font-weight:400;transform:scaleX(1.0317)">Protein</div>
<div class="t" style="left:68.91px;top:570px;font-size:33px;line-height:33px;font-weight:400;transform:scaleX(1.0441)">Fettgehalt</div>
<div class="t" style="left:67.79px;top:613px;font-size:33px;line-height:33px;font-weight:400;transform:scaleX(1.0130)">anorganischer Stoff</div>
<div class="t" style="left:69.04px;top:657px;font-size:33px;line-height:33px;font-weight:400;transform:scaleX(0.9803)">Rohfaser</div>
<div class="t" style="left:68.98px;top:701px;font-size:33px;line-height:33px;font-weight:400;transform:scaleX(1.0091)">Feuchtigkeit</div>
<div class="t" style="left:68.98px;top:744px;font-size:33px;line-height:33px;font-weight:400;transform:scaleX(1.0088)">Laktose</div>
<div class="t" style="left:69.01px;top:788px;font-size:33px;line-height:33px;font-weight:400;transform:scaleX(0.9932)">Calcium</div>
<div class="t" style="left:68.93px;top:832px;font-size:33px;line-height:33px;font-weight:400;transform:scaleX(1.0356)">Brennwert</div>
<div class="t" style="left:878.65px;top:527px;font-size:33px;line-height:33px;font-weight:400;transform:scaleX(0.9455)">3.7</div>
<div class="t" style="left:877.05px;top:571px;font-size:33px;line-height:33px;font-weight:400;transform:scaleX(0.9545)">3.3</div>
<div class="t" style="left:859.83px;top:614px;font-size:33px;line-height:33px;font-weight:400;transform:scaleX(0.9742)">0.70</div>
<div class="t" style="left:857.39px;top:658px;font-size:33px;line-height:33px;font-weight:400;transform:scaleX(1.0065)">0.50</div>
<div class="t" style="left:860.85px;top:702px;font-size:33px;line-height:33px;font-weight:400;transform:scaleX(0.9548)">87.2</div>
<div class="t" style="left:841.54px;top:746px;font-size:33px;line-height:33px;font-weight:400;transform:scaleX(0.9634)">&lt;0.10</div>
<div class="t" style="left:741.08px;top:790px;font-size:33px;line-height:33px;font-weight:400;transform:scaleX(1.0615)">1260 mg/kg</div>
<div class="t" style="left:721.97px;top:833px;font-size:33px;line-height:33px;font-weight:400;transform:scaleX(1.0258)">59 kcal/100 g</div>
</body></html>
